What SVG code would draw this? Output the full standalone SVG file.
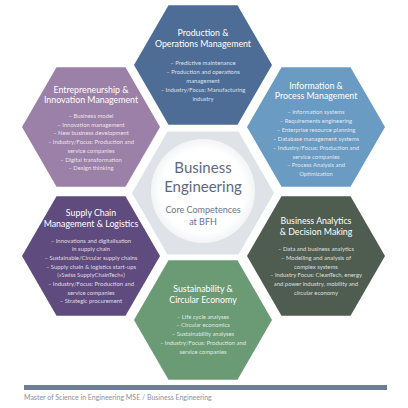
<svg xmlns="http://www.w3.org/2000/svg" xmlns:xlink="http://www.w3.org/1999/xlink" width="408" height="408" viewBox="0 0 408 408">
<style>
.t{font-family:Lato,"Open Sans","Liberation Sans",sans-serif;font-size:8.8px;fill:#ffffff;text-anchor:middle}
.b{font-family:Lato,"Open Sans","Liberation Sans",sans-serif;font-size:5.9px;fill:#ffffff;fill-opacity:0.8;text-anchor:middle}
.c1{font-family:Lato,"Open Sans","Liberation Sans",sans-serif;font-size:15px;fill:#5d6880;text-anchor:middle}
.c2{font-family:Lato,"Open Sans","Liberation Sans",sans-serif;font-size:9px;fill:#6a7488;text-anchor:middle}
.foot{font-family:Lato,"Open Sans","Liberation Sans",sans-serif;font-size:7px;fill:#8a909a}
</style>
<defs>
<polygon id="hx" points="-69,0 -34.5,-59.8 34.5,-59.8 69,0 34.5,59.8 -34.5,59.8"/>
<radialGradient id="cg" cx="0.5" cy="0.5" r="0.5">
<stop offset="0.8" stop-color="#ffffff"/>
<stop offset="1" stop-color="#f3f4f6"/>
</radialGradient>
</defs>
<rect width="408" height="408" fill="#ffffff"/>
<g id="connectors"></g>
<g id="center">
<polygon points="132,193 167.5,131.5 238.5,131.5 274,193 238.5,254.5 167.5,254.5" fill="#dfe3e8"/>
<circle cx="203" cy="191" r="52" fill="url(#cg)"/>
<text class="c1" x="203" y="172.5">Business</text>
<text class="c1" x="203" y="191.5">Engineering</text>
<text class="c2" x="203" y="213">Core Competences</text>
<text class="c2" x="203" y="224.5">at BFH</text>
</g>
<g id="production">
<use xlink:href="#hx" transform="translate(203,65)" fill="#4d6d97"/>
<text class="t" x="203" y="35.6">Production &amp;</text>
<text class="t" x="203" y="47.3">Operations Management</text>
<text class="b" x="203" y="65">– Predictive maintenance</text>
<text class="b" x="203" y="74">– Production and operations</text>
<text class="b" x="203" y="83">management</text>
<text class="b" x="203" y="92">– Industry/Focus: Manufacturing</text>
<text class="b" x="203" y="101">industry</text>
</g>
<g id="information">
<use xlink:href="#hx" transform="translate(316,127)" fill="#6a9bc3"/>
<text class="t" x="316" y="88.8">Information &amp;</text>
<text class="t" x="316" y="99.3">Process Management</text>
<text class="b" x="316" y="114.3">– Information systems</text>
<text class="b" x="316" y="123.2">– Requirements engineering</text>
<text class="b" x="316" y="132.1">– Enterprise resource planning</text>
<text class="b" x="316" y="141">– Database management systems</text>
<text class="b" x="316" y="149.8">– Industry/Focus: Production and</text>
<text class="b" x="316" y="158.6">service companies</text>
<text class="b" x="316" y="167.4">– Process Analysis and</text>
<text class="b" x="316" y="176.2">Optimization</text>
</g>
<g id="entrepreneurship">
<use xlink:href="#hx" transform="translate(91,127)" fill="#9b80a8"/>
<text class="t" x="91" y="92.6">Entrepreneurship &amp;</text>
<text class="t" x="91" y="102.9">Innovation Management</text>
<text class="b" x="91" y="118">– Business model</text>
<text class="b" x="91" y="126.7">– Innovation management</text>
<text class="b" x="91" y="135.4">– New business development</text>
<text class="b" x="91" y="144.1">– Industry/Focus: Production and</text>
<text class="b" x="91" y="152.8">service companies</text>
<text class="b" x="91" y="161.5">– Digital transformation</text>
<text class="b" x="91" y="170.2">– Design thinking</text>
</g>
<g id="supplychain">
<use xlink:href="#hx" transform="translate(91,256)" fill="#5f4b7d"/>
<text class="t" x="91" y="216">Supply Chain</text>
<text class="t" x="91" y="226.6">Management &amp; Logistics</text>
<text class="b" x="91" y="242.7">– Innovations and digitalisation</text>
<text class="b" x="91" y="251.4">in supply chain</text>
<text class="b" x="91" y="260">– Sustainable/Circular supply chains</text>
<text class="b" x="91" y="268.7">– Supply chain &amp; logistics start-ups</text>
<text class="b" x="91" y="277.3">(»Swiss SupplyChainTech«)</text>
<text class="b" x="91" y="286">– Industry/Focus: Production and</text>
<text class="b" x="91" y="294.7">service companies</text>
<text class="b" x="91" y="303.3">– Strategic procurement</text>
</g>
<g id="analytics">
<use xlink:href="#hx" transform="translate(316,256)" fill="#4f5d51"/>
<text class="t" x="316" y="224.3">Business Analytics</text>
<text class="t" x="316" y="235">&amp; Decision Making</text>
<text class="b" x="316" y="251">– Data and business analytics</text>
<text class="b" x="316" y="259.8">– Modelling and analysis of</text>
<text class="b" x="316" y="268.6">complex systems</text>
<text class="b" x="316" y="277.4">– Industry Focus: CleanTech, energy</text>
<text class="b" x="316" y="286.2">and power industry, mobility and</text>
<text class="b" x="316" y="295">circular economy</text>
</g>
<g id="sustainability">
<use xlink:href="#hx" transform="translate(203,320)" fill="#6a9b75"/>
<text class="t" x="203" y="291.6">Sustainability &amp;</text>
<text class="t" x="203" y="302.6">Circular Economy</text>
<text class="b" x="203" y="318.7">– Life cycle analyses</text>
<text class="b" x="203" y="327.4">– Circular economics</text>
<text class="b" x="203" y="336.2">– Sustainability analyses</text>
<text class="b" x="203" y="345">– Industry/Focus: Production and</text>
<text class="b" x="203" y="353.7">service companies</text>
</g>
<g id="footer">
<rect x="24" y="385" width="363" height="5" fill="#6e7f95"/>
<text class="foot" x="24" y="399.5">Master of Science in Engineering MSE / Business Engineering</text>
</g>
</svg>
